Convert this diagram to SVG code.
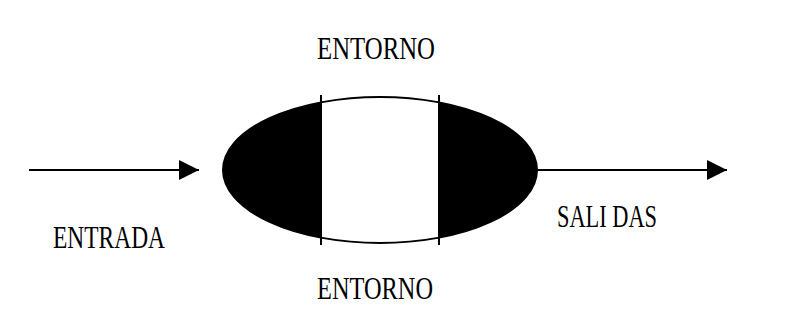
<svg xmlns="http://www.w3.org/2000/svg" width="789" height="336" viewBox="0 0 789 336">
<style>
.lbl{font-family:"Liberation Serif","Times New Roman",serif;font-size:31px;fill:#000;}
.ln{stroke:#000;stroke-width:2;fill:none;}
</style>
<defs>
<clipPath id="ec"><ellipse cx="380" cy="170" rx="157" ry="73"/></clipPath>
<marker id="ah" viewBox="0 0 20 20" refX="20" refY="10" markerWidth="20" markerHeight="20" markerUnits="userSpaceOnUse" orient="auto">
<path d="M0,0 L20,10 L0,20 Z" fill="#000"/>
</marker>
</defs>
<rect width="789" height="336" fill="#fff"/>
<g id="system">
<ellipse cx="380" cy="170" rx="157" ry="73" fill="#000"/>
<rect x="321" y="90" width="118" height="160" fill="#fff" clip-path="url(#ec)"/>
<ellipse cx="380" cy="170" rx="157" ry="73" class="ln" stroke-width="1.5"/>
<line x1="321" y1="95" x2="321" y2="245" class="ln"/>
<line x1="439" y1="95" x2="439" y2="245" class="ln"/>
</g>
<g id="connectors">
<line x1="29" y1="170" x2="199" y2="170" class="ln" marker-end="url(#ah)"/>
<line x1="537" y1="170" x2="727" y2="170" class="ln" marker-end="url(#ah)"/>
</g>
<g id="entorno-top"><text class="lbl" x="317" y="59" textLength="118" lengthAdjust="spacingAndGlyphs">ENTORNO</text></g>
<g id="entorno-bottom"><text class="lbl" x="317" y="299" textLength="116" lengthAdjust="spacingAndGlyphs">ENTORNO</text></g>
<g id="entrada"><text class="lbl" x="53" y="248" textLength="112" lengthAdjust="spacingAndGlyphs">ENTRADA</text></g>
<g id="salidas"><text class="lbl" x="557" y="227" textLength="100" lengthAdjust="spacingAndGlyphs">SALI DAS</text></g>
</svg>
